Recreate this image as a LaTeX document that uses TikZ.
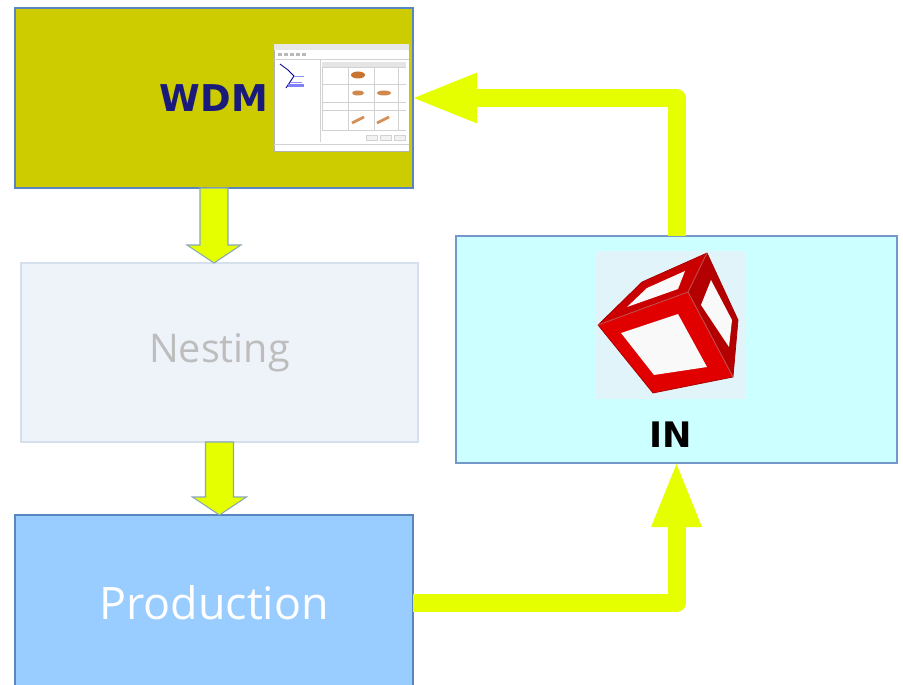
\documentclass[tikz,border=0pt]{standalone}
\usepackage{fontspec}
\usepackage{tikz}
\usetikzlibrary{arrows.meta,positioning,calc}
\newfontfamily\labelfont{DejaVu Sans}
\newfontfamily\softfont{Open Sans}
\definecolor{WDMolive}{HTML}{CCCC00}
\definecolor{WDMnavy}{HTML}{1A1A7A}
\definecolor{flowyellow}{HTML}{E5FF00}
\definecolor{nestfill}{HTML}{EEF2F9}
\definecolor{nestline}{HTML}{D6E0EC}
\definecolor{nesttext}{HTML}{BDBDBD}
\definecolor{prodfill}{HTML}{99CCFF}
\definecolor{infill}{HTML}{CCFFFF}
\definecolor{boxline}{HTML}{5A86C0}
\definecolor{arrline}{HTML}{8AA6B8}
\definecolor{cubered}{HTML}{E00000}
\definecolor{cubedark}{HTML}{A80000}
\definecolor{cubebg}{HTML}{E0F4FA}
\definecolor{woodbrown}{HTML}{C8742E}
\tikzset{
  stage/.style={draw=boxline, line width=0.8pt, inner sep=0pt, outer sep=0pt, minimum width=79.6mm, minimum height=36mm, align=center},
  flow/.style={draw=flowyellow, line width=3.6mm, line join=round, shorten >=-0.6mm, -{Triangle[length=13.4mm,width=9mm]}},
  blockarr/.style={fill=flowyellow, draw=arrline, line width=0.6pt, line join=miter},
  win/.style={draw=gray!35, line width=0.2pt}
}
% block arrow dropping from the bottom of #1 onto the top of #2
\newcommand{\dropto}[2]{%
  \path (#1.south |- #2.north) coordinate (tip);
  \draw[blockarr] ($(#1.south)+(-14,0)$) -- ($(tip)+(-14,-18)$) -- ($(tip)+(-27,-18)$)
    -- (tip) -- ($(tip)+(27,-18)$) -- ($(tip)+(14,-18)$) -- ($(#1.south)+(14,0)$) -- cycle;
}

\begin{document}
\begin{tikzpicture}[x=0.2mm, y=-0.2mm]
\useasboundingbox (0,0) rectangle (903,685);

\node[stage, fill=WDMolive, text=WDMnavy, font=\labelfont\bfseries\fontsize{21}{25}\selectfont] (wdm) at (214,98) {WDM};
\node[stage, draw=nestline, fill=nestfill, text=nesttext, minimum width=79.4mm, minimum height=35.8mm,
  font=\softfont\fontsize{22.5}{27}\selectfont] (nest) at (219.5,352.5) {Nesting};
\node[stage, fill=prodfill, text=white, minimum height=35.2mm,
  font=\softfont\fontsize{25.5}{30}\selectfont] (prod) at (214,603) {Production};
\node[stage, draw=boxline!85, fill=infill, minimum width=88.2mm, minimum height=45.4mm] (in) at (676.5,349.5) {};
\node[font=\labelfont\bfseries\fontsize{20}{24}\selectfont] (inlabel) at ($(in.south)+(-6,-28)$) {IN};

% program window thumbnail
\node[draw=gray!60, fill=white, inner sep=0pt, outer sep=0pt, minimum width=27mm, minimum height=21.4mm,
  anchor=north east] (shot) at ($(wdm.north east)+(-4,36)$) {};
\begin{scope}[shift={(shot.north west)}]
  \fill[gray!18] (0,0) rectangle (135,6);
  \foreach \i in {0,...,4} \fill[gray!55] (4+\i*6,9) rectangle ++(3.5,3);
  \draw[win] (0,15) -- (135,15);
  \draw[win] (46,15) -- (46,98);
  \draw[blue!55!black, line width=0.5pt] (6,20) -- (14,26) -- (20,32) -- (16,38) -- (12,44);
  \draw[blue!45, line width=0.4pt] (20,32) -- (30,32) (16,38) -- (28,38);
  \fill[blue!50] (14,40) rectangle (30,43);
  \fill[gray!20] (48,18) rectangle (132,23);
  \foreach \gx in {48,74,100,124} \draw[win] (\gx,23) -- (\gx,86);
  \foreach \gy in {23,40,58,66,86} \draw[win] (48,\gy) -- (132,\gy);
  \fill[woodbrown] (84,31) ellipse (7 and 3.5);
  \fill[woodbrown!85] (84,49) ellipse (6 and 2.5);
  \fill[woodbrown!85] (110,49) ellipse (7 and 2.5);
  \draw[woodbrown!80, line width=1.6pt] (78,79) -- (90,73);
  \draw[woodbrown!80, line width=1.6pt] (103,79) -- (115,73);
  \foreach \bx in {92,106,120} \draw[win, fill=gray!10] (\bx,91) rectangle ++(11,5);
  \draw[win] (0,100) -- (135,100);
\end{scope}

% cube icon
\node[fill=cubebg, inner sep=0pt, minimum width=30mm, minimum height=29.6mm] (cube) at (671,325) {};
\begin{scope}[shift={(cube.center)}, line join=round]
  \fill[cubered!90!black] (-73,0) -- (-29,-43) -- (36,-72) -- (17,-33) -- cycle;
  \fill[cubered!80!black] (17,-33) -- (36,-72) -- (67,-5) -- (62,52) -- cycle;
  \fill[cubered] (-73,0) -- (17,-33) -- (62,52) -- (-18,68) -- cycle;
  \draw[cubedark, line width=0.4pt] (-73,0) -- (-29,-43) -- (36,-72) -- (67,-5) -- (62,52) -- (-18,68) -- cycle;
  \draw[cubedark!70, line width=0.5pt] (-73,0) -- (17,-33) -- (62,52) (17,-33) -- (36,-72);
  \fill[gray!5] (-50,8) -- (7,-11) -- (36,42) -- (-17,50) -- cycle;
  \fill[gray!5] (-44,-18) -- (-24,-37) -- (14,-54) -- (7,-36) -- cycle;
  \fill[gray!5] (30,-20) -- (40,-45) -- (61,-5) -- (58,22) -- cycle;
\end{scope}

\dropto{wdm}{nest}
\dropto{nest}{prod}

\draw[flow] (prod.east) -| (in.south);
\draw[flow] (in.north) |- (wdm.east);
\end{tikzpicture}
\end{document}
